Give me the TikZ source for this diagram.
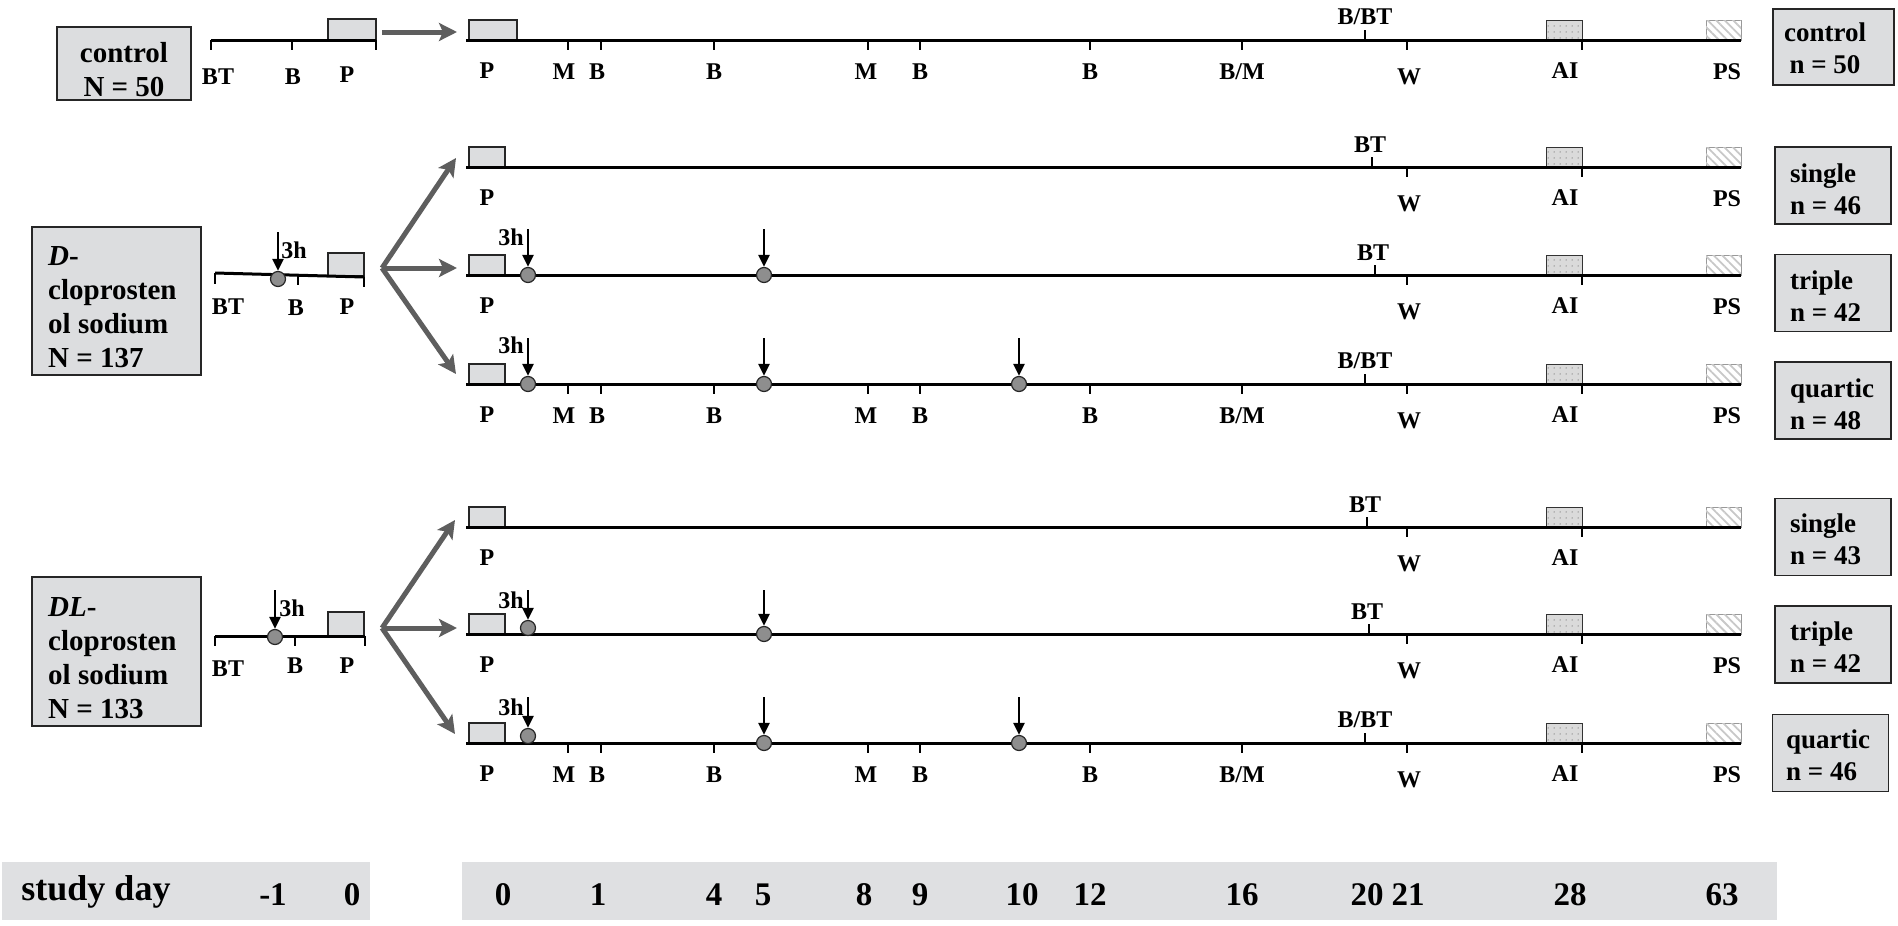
\documentclass[tikz,border=0pt]{standalone}
\usepackage{fontspec}
\setmainfont{Liberation Serif}
\usetikzlibrary{arrows.meta,patterns.meta}
\definecolor{boxgray}{HTML}{DCDDDF}
\definecolor{bandgray}{HTML}{DFE0E2}
\definecolor{fangray}{HTML}{5E5E5E}
\definecolor{circgray}{HTML}{8E8E8E}
\definecolor{hatchgray}{HTML}{C8C8C8}
\definecolor{dotbg}{HTML}{DADADA}
\tikzset{
  tline/.style={line width=3pt},
  tickmark/.style={line width=2.4pt},
  pbox/.style={draw=black!85, line width=1.2pt, fill=boxgray},
  aibox/.style={draw=black!80, line width=1pt, fill=dotbg, postaction={pattern color=black!80, pattern={Dots[distance=6pt,radius=0.5pt]}}},
  psbox/.style={draw=black!40, line width=1pt, fill=white, postaction={pattern color=hatchgray, pattern={Lines[angle=-45,distance=6pt,line width=1.8pt]}}},
  lbl/.style={font=\fontsize{24}{24}\selectfont\bfseries, inner sep=0pt, text height=16pt, text depth=0pt},
  grpbox/.style={draw=black!85, line width=1.5pt, fill=boxgray, inner sep=0pt},
  ltext/.style={font=\fontsize{29}{34}\selectfont\bfseries, inner sep=0pt},
  rtext/.style={font=\fontsize{27}{32}\selectfont\bfseries, inner sep=0pt},
  fan/.style={draw=fangray, line width=5pt, -{Stealth[length=18pt,width=18pt,inset=4pt]}},
  dose/.style={line width=2.4pt, -{Triangle[length=12pt,width=11pt]}},
  dosedot/.style={circle, draw=black!85, line width=1.2pt, fill=circgray, minimum size=15pt, inner sep=0pt},
  band/.style={fill=bandgray, inner sep=0pt},
  dayt/.style={font=\fontsize{33}{33}\selectfont\bfseries, inner sep=0pt, text height=23pt, text depth=0pt},
}
\begin{document}
\begin{tikzpicture}[x=1pt,y=-1pt]
\useasboundingbox (0,0) rectangle (1898,926);

% ---------- main timelines (common parts) ----------
\foreach \n/\y/\pw in {c/40/517, ds/167/505, dt/275/505, dq/384/505, ls/527/505, lt/634/505, lq/743/505} {
  \draw[pbox] (469,\y-20) rectangle (\pw,\y);
  \draw[aibox] (1546,\y-20) rectangle (1582,\y);
  \draw[psbox] (1706,\y-20) rectangle (1741,\y);
  \coordinate (\n-s) at (466,\y);
  \coordinate (\n-e) at (1741,\y);
  \draw[tline] (\n-s) -- (\n-e);
  \draw[tickmark] (1407,\y) -- (1407,\y+10);
  \draw[tickmark] (1582,\y) -- (1582,\y+10);
  \node[lbl] (\n-P) at (487,\y+30) {P};
  \node[lbl] (\n-W) at (1409,\y+36) {W};
  \node[lbl] (\n-AI) at (1565,\y+30) {AI};
}
\foreach \n/\y in {c/40, ds/167, dt/275, dq/384, lt/634, lq/743} {
  \node[lbl] (\n-PS) at (1727,\y+31) {PS};
}

% upper ticks
\foreach \n/\y/\x in {c/40/1365, dq/384/1365, lq/743/1365} {
  \draw[tickmark] (\x,\y) -- (\x,\y-10);
  \node[lbl] (\n-BBT) at (\x,\y-24) {B/BT};
}
\foreach \n/\y/\x in {ds/167/1372, dt/275/1375, ls/527/1367, lt/634/1369} {
  \draw[tickmark] (\x,\y) -- (\x,\y-10);
  \node[lbl] (\n-BT) at (\x-2,\y-23) {BT};
}

% sampling ticks on full rows
\foreach \n/\y in {c/40, dq/384, lq/743} {
  \foreach \x/\lx/\t [count=\i] in {568/564/M, 601/597/B, 714/714/B, 868/866/M, 920/920/B, 1090/1090/B, 1242/1242/{B/M}} {
    \draw[tickmark] (\x,\y) -- (\x,\y+10);
    \node[lbl] (\n-k\i) at (\lx,\y+31) {\t};
  }
}

% ---------- treatments (arrows + dots) ----------
% D triple
\node[dosedot] (dt-d1) at (528,275) {};
\node[dosedot] (dt-d2) at (764,275) {};
\coordinate (dt-a1) at (528,229);
\coordinate (dt-a2) at (764,229);
\draw[dose] (dt-a1) -- (dt-d1);
\draw[dose] (dt-a2) -- (dt-d2);
\node[lbl] (dt-3h) at (511,237) {3h};
% D quartic
\node[dosedot] (dq-d1) at (528,384) {};
\node[dosedot] (dq-d2) at (764,384) {};
\node[dosedot] (dq-d3) at (1019,384) {};
\coordinate (dq-a1) at (528,338);
\coordinate (dq-a2) at (764,338);
\coordinate (dq-a3) at (1019,338);
\draw[dose] (dq-a1) -- (dq-d1);
\draw[dose] (dq-a2) -- (dq-d2);
\draw[dose] (dq-a3) -- (dq-d3);
\node[lbl] (dq-3h) at (511,345) {3h};
% DL triple
\node[dosedot] (lt-d1) at (528,628) {};
\node[dosedot] (lt-d2) at (764,634) {};
\coordinate (lt-a1) at (528,590);
\coordinate (lt-a2) at (764,590);
\draw[dose] (lt-a1) -- (lt-d1);
\draw[dose] (lt-a2) -- (lt-d2);
\node[lbl] (lt-3h) at (511,600) {3h};
% DL quartic
\node[dosedot] (lq-d1) at (528,736) {};
\node[dosedot] (lq-d2) at (764,743) {};
\node[dosedot] (lq-d3) at (1019,743) {};
\coordinate (lq-a1) at (528,697);
\coordinate (lq-a2) at (764,697);
\coordinate (lq-a3) at (1019,697);
\draw[dose] (lq-a1) -- (lq-d1);
\draw[dose] (lq-a2) -- (lq-d2);
\draw[dose] (lq-a3) -- (lq-d3);
\node[lbl] (lq-3h) at (511,707) {3h};

% ---------- left group boxes ----------
\node[grpbox, minimum width=134pt, minimum height=73pt] (cbox) at (124,63.5) {};
\node[ltext, align=center] (cboxt) at (124,70) {control\\N = 50};
\node[grpbox, minimum width=169pt, minimum height=148pt] (dbox) at (116.5,301) {};
\node[ltext, align=left, anchor=west] (dboxt) at (48,307) {\textit{D}-\\cloprosten\\ol sodium\\N = 137};
\node[grpbox, minimum width=169pt, minimum height=149pt] (lbox) at (116.5,651.5) {};
\node[ltext, align=left, anchor=west] (lboxt) at (48,658) {\textit{DL}-\\cloprosten\\ol sodium\\N = 133};

% ---------- left (pre-treatment) timelines ----------
% control
\draw[pbox] (328,19) rectangle (376,40);
\coordinate (cl-s) at (211,40);
\coordinate (cl-e) at (376,40);
\draw[tline] (cl-s) -- (cl-e);
\foreach \x in {211,292,376} \draw[tickmark] (\x,40) -- (\x,50);
\node[lbl] (cl-BT) at (218,76) {BT};
\node[lbl] (cl-B) at (293,76) {B};
\node[lbl] (cl-P) at (347,74) {P};
\coordinate (cf-a) at (382,32);
\coordinate (cf-b) at (457,32);
\draw[fan] (cf-a) -- (cf-b);

% D
\draw[pbox] (328,253) rectangle (364,276);
\coordinate (dl-s) at (215,273);
\coordinate (dl-e) at (364,277);
\draw[tline] (dl-s) -- (dl-e);
\draw[tickmark] (215,273) -- (215,284);
\draw[tickmark] (298,275) -- (298,285);
\draw[tickmark] (364,277) -- (364,287);
\node[dosedot] (dl-d) at (278,279) {};
\coordinate (dl-a) at (278,232);
\draw[dose] (dl-a) -- (dl-d);
\node[lbl] (dl-3h) at (294,250) {3h};
\node[lbl] (dl-BT) at (228,306) {BT};
\node[lbl] (dl-B) at (296,307) {B};
\node[lbl] (dl-P) at (347,306) {P};
\coordinate (dfan) at (382,268);
\coordinate (dfan1) at (456,158);
\coordinate (dfan2) at (457,268);
\coordinate (dfan3) at (456,374);
\draw[fan] (dfan) -- (dfan1);
\draw[fan] (dfan) -- (dfan2);
\draw[fan] (dfan) -- (dfan3);

% DL
\draw[pbox] (328,612) rectangle (364,636);
\coordinate (ll-s) at (215,636);
\coordinate (ll-e) at (365,636);
\draw[tline] (ll-s) -- (ll-e);
\foreach \x in {215,295,365} \draw[tickmark] (\x,636) -- (\x,646);
\node[dosedot] (ll-d) at (275,637) {};
\coordinate (ll-a) at (275,590);
\draw[dose] (ll-a) -- (ll-d);
\node[lbl] (ll-3h) at (292,608) {3h};
\node[lbl] (ll-BT) at (228,668) {BT};
\node[lbl] (ll-B) at (295,665) {B};
\node[lbl] (ll-P) at (347,665) {P};
\coordinate (lfan) at (382,628);
\coordinate (lfan1) at (455,520);
\coordinate (lfan2) at (457,628);
\coordinate (lfan3) at (455,734);
\draw[fan] (lfan) -- (lfan1);
\draw[fan] (lfan) -- (lfan2);
\draw[fan] (lfan) -- (lfan3);

% ---------- right group boxes ----------
\node[grpbox, minimum width=121pt, minimum height=76pt] (rc) at (1833.5,47) {};
\node[rtext, align=center] (rct) at (1825,48) {control\\n = 50};
\foreach \n/\cx/\cy/\tx/\ty/\t in {ds/1833/185.5/1790/189/{single\\n = 46}, dt/1833/293/1790/296/{triple\\n = 42}, dq/1833/400.5/1790/404/{quartic\\n = 48}, ls/1833/537/1790/539/{single\\n = 43}, lt/1833/644.5/1790/647.5/{triple\\n = 42}, lq/1830.5/753/1786/755/{quartic\\n = 46}} {
  \node[grpbox, minimum width=116pt, minimum height=77pt] (\n-box) at (\cx,\cy) {};
  \node[rtext, align=left, anchor=west] (\n-boxt) at (\tx,\ty) {\t};
}

% ---------- study day band ----------
\node[band, minimum width=368pt, minimum height=58pt] (band1) at (186,891) {};
\node[band, minimum width=1315pt, minimum height=58pt] (band2) at (1119.5,891) {};
\node[font=\fontsize{36}{36}\selectfont\bfseries, inner sep=0pt] (sday) at (96,892) {study day};
\foreach \x/\t [count=\i] in {273/-1, 352/0, 503/0, 598/1, 714/4, 763/5, 864/8, 920/9, 1022/10, 1090/12, 1242/16, 1367/20, 1408/21, 1570/28, 1722/63} {
  \node[dayt] (day\i) at (\x,894) {\t};
}
\end{tikzpicture}
\end{document}
